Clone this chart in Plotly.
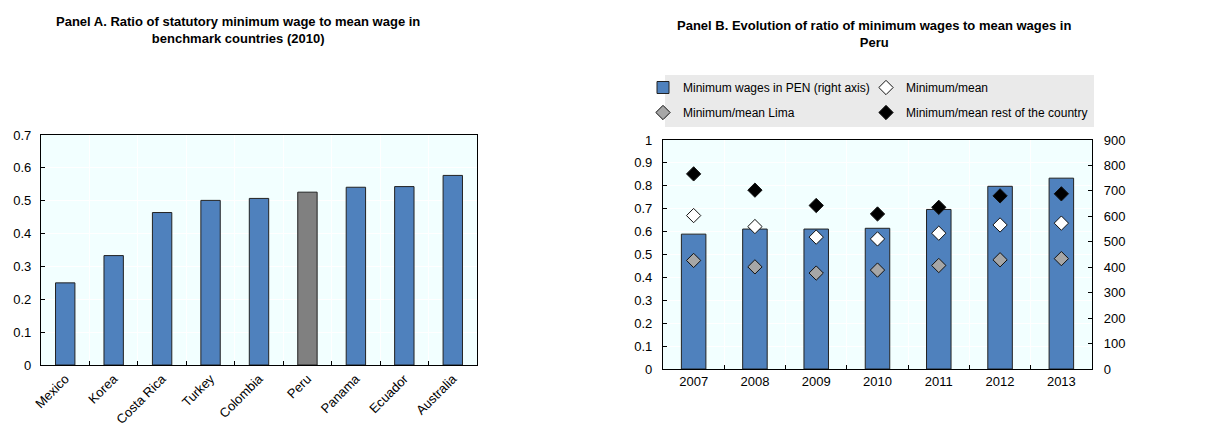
import plotly.graph_objects as go

FONT = "Liberation Sans Narrow, Arial Narrow, Liberation Sans, Arial"
BLUE = "rgb(79,129,189)"
PLOT_BG = "#F2FFFF"

# Panel A
countries = ["Mexico", "Korea", "Costa Rica", "Turkey", "Colombia",
             "Peru", "Panama", "Ecuador", "Australia"]
ratio_2010 = [0.25, 0.333, 0.464, 0.501, 0.507, 0.526, 0.541, 0.543, 0.577]

# Panel B
years = ["2007", "2008", "2009", "2010", "2011", "2012", "2013"]
min_wage_pen = [530, 550, 550, 553, 627, 718, 750]
min_mean = [0.670, 0.622, 0.576, 0.568, 0.593, 0.629, 0.637]
min_mean_lima = [0.474, 0.446, 0.419, 0.432, 0.452, 0.477, 0.482]
min_mean_rest = [0.852, 0.781, 0.714, 0.677, 0.706, 0.756, 0.765]

bar_colors = ["rgb(128,128,128)" if c == "Peru" else BLUE for c in countries]

fig = go.Figure()

fig.add_trace(go.Bar(x=countries, y=ratio_2010, marker_color=bar_colors,
                     marker_line=dict(color="#222222", width=1),
                     xaxis="x", yaxis="y", showlegend=False))

fig.add_trace(go.Bar(x=years, y=min_wage_pen, name="Minimum wages in PEN (right axis)",
                     marker_color=BLUE, marker_line=dict(color="#222222", width=1),
                     xaxis="x2", yaxis="y2", legend="legend", legendgroup="a"))

diamond = dict(symbol="diamond", size=11, line=dict(color="#111111", width=1))
fig.add_trace(go.Scatter(x=years, y=min_mean, mode="markers", name="Minimum/mean",
                         marker=dict(diamond, color="white"),
                         xaxis="x2", yaxis="y3", legend="legend2", legendgroup="c"))
fig.add_trace(go.Scatter(x=years, y=min_mean_lima, mode="markers", name="Minimum/mean Lima",
                         marker=dict(diamond, color="rgb(166,166,166)"),
                         xaxis="x2", yaxis="y3", legend="legend", legendgroup="b"))
fig.add_trace(go.Scatter(x=years, y=min_mean_rest, mode="markers",
                         name="Minimum/mean rest of the country",
                         marker=dict(diamond, color="black"),
                         xaxis="x2", yaxis="y3", legend="legend2", legendgroup="d"))

W, H = 1225, 426
PAGE_OFFSET = 8  # default body margin of the html page


def px_x(v):
    return (v - PAGE_OFFSET) / W


def px_y(v):
    return 1 - (v - PAGE_OFFSET) / H


axis_common = dict(showline=True, linecolor="black", linewidth=1.3, mirror=True,
                   ticks="inside", ticklen=4, tickcolor="black", automargin=False,
                   tickfont=dict(family=FONT, size=13, color="black"),
                   showgrid=True, gridcolor="white", gridwidth=1, zeroline=False)

legend_common = dict(orientation="v", bgcolor="rgba(0,0,0,0)", borderwidth=0,
                     font=dict(family=FONT, size=12, color="black"),
                     xanchor="left", yanchor="top", tracegroupgap=6)

fig.update_layout(
    width=W, height=H,
    margin=dict(l=0, r=0, t=0, b=0, autoexpand=False),
    paper_bgcolor="white",
    plot_bgcolor=PLOT_BG,
    bargap=0.6,
    font=dict(family=FONT, size=13, color="black"),
    xaxis=dict(axis_common, domain=[px_x(41), px_x(477)], anchor="y",
               type="category", tickson="boundaries", tickangle=-45),
    yaxis=dict(axis_common, domain=[px_y(365), px_y(135)], anchor="x",
               range=[0, 0.7], dtick=0.1, tickformat=".1~f", ticklabelstandoff=6),
    xaxis2=dict(axis_common, domain=[px_x(663), px_x(1092)], anchor="y2",
                type="category", tickson="boundaries"),
    yaxis2=dict(axis_common, domain=[px_y(369), px_y(140)], anchor="x2", side="right",
                range=[0, 900], dtick=100, showgrid=False, ticklabelstandoff=8),
    yaxis3=dict(axis_common, overlaying="y2", anchor="x2", side="left",
                range=[0, 1], dtick=0.1, tickformat=".1~f", ticklabelstandoff=7),
    legend=dict(legend_common, x=px_x(643), y=px_y(73)),
    legend2=dict(legend_common, x=px_x(866), y=px_y(73)),
    shapes=[dict(type="rect", xref="paper", yref="paper",
                 x0=px_x(665), x1=px_x(1094), y0=px_y(127), y1=px_y(75),
                 fillcolor="rgb(234,234,234)", line=dict(width=0), layer="below")],
    annotations=[
        dict(text="<b>Panel A. Ratio of statutory minimum wage to mean wage in<br>benchmark countries (2010)</b>",
             xref="paper", yref="paper", x=px_x(238), y=px_y(12), xanchor="center", yanchor="top",
             showarrow=False, font=dict(family=FONT, size=13, color="black")),
        dict(text="<b>Panel B. Evolution of ratio of minimum wages to mean wages in<br>Peru</b>",
             xref="paper", yref="paper", x=px_x(874), y=px_y(16), xanchor="center", yanchor="top",
             showarrow=False, font=dict(family=FONT, size=13, color="black")),
    ],
)

fig.write_html("out.html")
